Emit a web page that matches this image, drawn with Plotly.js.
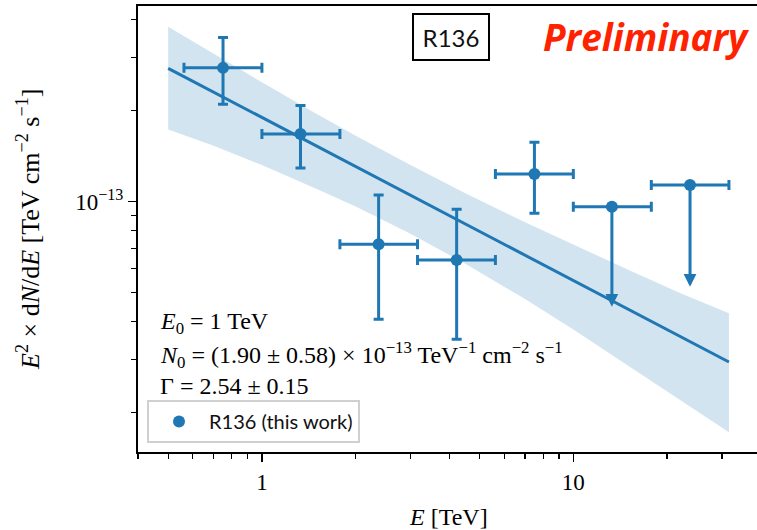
<!DOCTYPE html>
<html>
<head>
<meta charset="utf-8">
<script src="https://cdn.plot.ly/plotly-3.0.1.min.js"></script>
<style>
html, body { margin:0; padding:0; overflow:hidden; background:#fff; width:757px; height:530px; }
#chart { width:800px; height:530px; }
</style>
</head>
<body>
<div id="chart"></div>
<script>
// ---- flux points (TeV, TeV cm^-2 s^-1) ----
const energy   = [0.75, 1.33, 2.37, 4.22, 7.50];
const energyLo = [0.562, 1.00, 1.78, 3.16, 5.62];
const energyHi = [1.00, 1.78, 3.16, 5.62, 10.0];
const flux     = [2.77e-13, 1.673e-13, 7.22e-14, 6.40e-14, 1.233e-13];
const fluxLo   = [2.10e-13, 1.29e-13, 4.07e-14, 3.50e-14, 9.14e-14];
const fluxHi   = [3.49e-13, 2.08e-13, 1.05e-13, 9.42e-14, 1.57e-13];

// ---- upper limits ----
const ulEnergy   = [13.3, 23.7];
const ulEnergyLo = [10.0, 17.8];
const ulEnergyHi = [17.8, 31.6];
const ulFlux     = [9.61e-14, 1.134e-13];
const ulArrowEnd = [4.48e-14, 5.22e-14];

// ---- power-law fit and its confidence band ----
const fitEnergy = [0.5, 31.6];
const fitFlux   = [2.76e-13, 2.94e-14];
const bandEnergy = [0.5, 0.7, 1.0, 1.5, 2.0, 3.0, 4.5, 7.0, 10.0, 15.0, 22.0, 31.6];
const bandHi = [3.79e-13, 3.08e-13, 2.48e-13, 1.95e-13, 1.65e-13, 1.32e-13, 1.065e-13, 8.53e-14, 7.19e-14, 5.94e-14, 4.98e-14, 4.26e-14];
const bandLo = [1.73e-13, 1.53e-13, 1.32e-13, 1.10e-13, 9.63e-14, 7.82e-14, 6.22e-14, 4.75e-14, 3.77e-14, 2.86e-14, 2.20e-14, 1.72e-14];

// ---- axis ticks ----
const xMajor = [1, 10];
const xMajorText = ['1', '10'];
const xMinor = [0.4, 0.5, 0.6, 0.7, 0.8, 0.9, 2, 3, 4, 5, 6, 7, 8, 9, 20, 30, 40];
const yMajor = [1e-13];
const yMajorText = ['10<sup>\u221213</sup>'];
const yMinor = [2e-14, 3e-14, 4e-14, 5e-14, 6e-14, 7e-14, 8e-14, 9e-14, 2e-13, 3e-13, 4e-13];

const blue = '#1f77b4';
const serif = 'Liberation Serif, DejaVu Serif, serif';
const sans = 'Lato, Noto Sans, sans-serif';

const traces = [
  {
    x: bandEnergy.concat(bandEnergy.slice().reverse()),
    y: bandHi.concat(bandLo.slice().reverse()),
    type: 'scatter', mode: 'lines', fill: 'toself',
    fillcolor: 'rgba(31,119,180,0.2)', line: {width: 0},
    hoverinfo: 'skip', showlegend: false
  },
  {
    x: fitEnergy, y: fitFlux, type: 'scatter', mode: 'lines',
    line: {color: blue, width: 3}, showlegend: false
  },
  {
    x: ulEnergy, y: ulFlux, type: 'scatter', mode: 'markers',
    marker: {color: blue, size: 12},
    error_x: {type: 'data', symmetric: false,
      array: ulEnergyHi.map((v, i) => v - ulEnergy[i]),
      arrayminus: ulEnergy.map((v, i) => v - ulEnergyLo[i]),
      color: blue, thickness: 3, width: 5},
    showlegend: false
  },
  {
    x: energy, y: flux, type: 'scatter', mode: 'markers',
    name: 'R136 (this work)',
    marker: {color: blue, size: 12},
    error_x: {type: 'data', symmetric: false,
      array: energyHi.map((v, i) => v - energy[i]),
      arrayminus: energy.map((v, i) => v - energyLo[i]),
      color: blue, thickness: 3, width: 5},
    error_y: {type: 'data', symmetric: false,
      array: fluxHi.map((v, i) => v - flux[i]),
      arrayminus: flux.map((v, i) => v - fluxLo[i]),
      color: blue, thickness: 3, width: 5}
  }
];

const px2x = p => (p - 138) / 653;
const px2y = p => (452 - p) / 446;

const annotations = [];
ulEnergy.forEach((e, i) => {
  annotations.push({
    x: Math.log10(e), y: Math.log10(ulArrowEnd[i]), xref: 'x', yref: 'y',
    ax: Math.log10(e), ay: Math.log10(ulFlux[i]), axref: 'x', ayref: 'y',
    showarrow: true, arrowhead: 2, arrowsize: 0.85, arrowwidth: 3, arrowcolor: blue, text: ''
  });
});
annotations.push(
  {xref: 'paper', yref: 'paper', x: px2x(450.5), y: px2y(37), xanchor: 'center', yanchor: 'middle',
   text: 'R136', showarrow: false, font: {family: sans, size: 24, color: '#111'},
   width: 62, height: 32,
   bordercolor: '#000', borderwidth: 2, borderpad: 6, bgcolor: '#fff'},
  {xref: 'paper', yref: 'paper', x: px2x(541), y: px2y(37), xanchor: 'left', yanchor: 'middle',
   text: '<b><i>Preliminary</i></b>', showarrow: false,
   font: {family: 'Open Sans, sans-serif', size: 37, color: '#ff2200'}},
  {xref: 'paper', yref: 'paper', x: px2x(158), y: px2y(323), xanchor: 'left', yanchor: 'middle',
   text: '<i>E</i><sub>0</sub> = 1 TeV', showarrow: false, font: {family: serif, size: 24, color: '#000'}},
  {xref: 'paper', yref: 'paper', x: px2x(158), y: px2y(355), xanchor: 'left', yanchor: 'middle',
   text: '<i>N</i><sub>0</sub> = (1.90 \u00b1 0.58) \u00d7 10<sup>\u221213</sup> TeV<sup>\u22121</sup> cm<sup>\u22122</sup> s<sup>\u22121</sup>',
   showarrow: false, font: {family: serif, size: 24, color: '#000'}},
  {xref: 'paper', yref: 'paper', x: px2x(158), y: px2y(386), xanchor: 'left', yanchor: 'middle',
   text: '\u0393 = 2.54 \u00b1 0.15', showarrow: false, font: {family: serif, size: 24, color: '#000'}},
  {xref: 'paper', yref: 'paper', x: px2x(448), y: px2y(517), xanchor: 'center', yanchor: 'middle',
   text: '<i>E</i> [TeV]', showarrow: false, font: {family: serif, size: 24, color: '#000'}},
  {xref: 'paper', yref: 'paper', x: px2x(28), y: px2y(230), xanchor: 'center', yanchor: 'middle',
   textangle: -90,
   text: '<i>E</i><sup>2</sup> \u00d7 d<i>N</i>/d<i>E</i> [TeV cm<sup>\u22122</sup> s<sup>\u22121</sup>]',
   showarrow: false, font: {family: serif, size: 26, color: '#000'}}
);

const layout = {
  width: 800, height: 530,
  margin: {l: 138, r: 9, t: 6, b: 78},
  paper_bgcolor: '#fff', plot_bgcolor: '#fff',
  showlegend: true,
  legend: {x: px2x(147), y: px2y(443), xanchor: 'left', yanchor: 'bottom',
    bgcolor: '#fff', bordercolor: '#d0d0d0', borderwidth: 2, itemwidth: 50,
    font: {family: sans, size: 20, color: '#111'}},
  xaxis: {type: 'log', range: [Math.log10(0.4), Math.log10(50)],
    showgrid: false, zeroline: false, showline: true, linecolor: '#000', linewidth: 2, mirror: true,
    tickmode: 'array', tickvals: xMajor, ticktext: xMajorText,
    ticks: 'outside', ticklen: 8, tickwidth: 1.5, tickcolor: '#000',
    tickfont: {family: serif, size: 23, color: '#000'},
    minor: {tickmode: 'array', tickvals: xMinor, ticks: 'outside', ticklen: 5, tickwidth: 1.2, tickcolor: '#000', showgrid: false}},
  yaxis: {type: 'log', range: [Math.log10(1.48e-14), Math.log10(4.44e-13)],
    showgrid: false, zeroline: false, showline: true, linecolor: '#000', linewidth: 2,
    tickmode: 'array', tickvals: yMajor, ticktext: yMajorText,
    ticks: 'outside', ticklen: 8, tickwidth: 1.5, tickcolor: '#000',
    tickfont: {family: serif, size: 23, color: '#000'},
    minor: {tickmode: 'array', tickvals: yMinor, ticks: 'outside', ticklen: 5, tickwidth: 1.2, tickcolor: '#000', showgrid: false}},
  annotations: annotations
};

Plotly.newPlot('chart', traces, layout, {displayModeBar: false, staticPlot: true});
</script>
</body>
</html>
